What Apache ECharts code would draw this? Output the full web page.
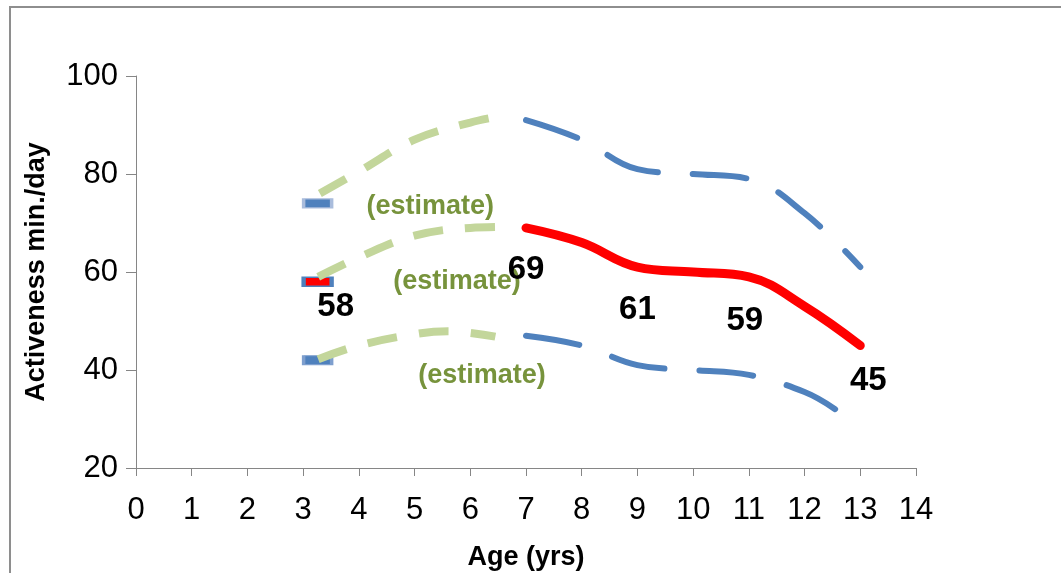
<!DOCTYPE html>
<html>
<head>
<meta charset="utf-8">
<script src="https://cdn.jsdelivr.net/npm/echarts@6/dist/echarts.min.js"></script>
<style>
html,body{margin:0;padding:0;background:#fff;}
#chart{width:1061px;height:573px;}
</style>
</head>
<body>
<div id="chart"></div>
<script>
// ---- data ----
const ages = [7, 8, 9, 10, 11, 12, 13];
const meanValues = [69, 66, 61, 60, 59, 53, 45];
const upperValues = [91, 87, 81, 80, 79, 72, 61];
const lowerAges = [7, 8, 9, 10, 11, 12, 12.55];
const lowerValues = [47, 45, 41, 40, 39, 35.5, 32];

const estUpperAges = [3.3, 4, 5, 6, 6.65];
const estUpperValues = [76, 80.5, 87, 90.5, 92];
const estMeanAges = [3.27, 4, 5, 6, 6.65];
const estMeanValues = [59, 63, 67.4, 69, 69.2];
const estLowerAges = [3.27, 4, 5, 5.6, 6.45];
const estLowerValues = [42.2, 45, 47.3, 47.9, 46.8];

const startAge = 3.26;
const startValues = [74, 58, 42];           // upper, mean, lower at start
const labeledAges = [7, 9, 11, 13];          // mean values shown as labels
const estimateText = '(estimate)';
const estimateLabelAges = [5.28, 5.76, 6.21];
const estimateLabelValues = [73.3, 58, 38.8];

const xMin = 0, xMax = 14, xStep = 1;
const yMin = 20, yMax = 100, yStep = 20;
const xTitle = 'Age (yrs)';
const yTitle = 'Activeness min./day';

// ---- build ----
const zip = (xs, ys) => xs.map((x, i) => [x, ys[i]]);
const FONT = "'Liberation Sans', Arial, sans-serif";
const BLUE = '#4F81BD', GREEN = '#C3D69B', RED = '#FF0000', LABELGREEN = '#77933C';
const labelOffsets = {7: [0, 42], 9: [0, 43], 11: [-4, 44], 13: [8, 35]};
const numLabel = {show: true, position: 'inside', color: '#000', fontFamily: FONT,
  fontWeight: 'bold', fontSize: 33, formatter: p => String(p.value[1])};

const meanData = zip(ages, meanValues).map(d => {
  const o = labelOffsets[d[0]];
  return labeledAges.includes(d[0])
    ? {value: d, label: Object.assign({}, numLabel, {offset: o})}
    : {value: d, label: {show: false}};
});

const chart = echarts.init(document.getElementById('chart'));
chart.setOption({
  animation: false,
  backgroundColor: '#fff',
  graphic: [{type: 'rect', shape: {x: 10, y: 7, width: 1100, height: 620},
    style: {fill: 'none', stroke: '#8E8E8E', lineWidth: 2}, z: 0, silent: true}],
  grid: {left: 136, right: 145, top: 76, bottom: 105, containLabel: false, outerBoundsMode: 'none'},
  xAxis: {type: 'value', min: xMin, max: xMax, interval: xStep,
    name: xTitle, nameLocation: 'middle', nameGap: 76,
    nameTextStyle: {fontFamily: FONT, fontWeight: 'bold', fontSize: 27, color: '#000'},
    axisLine: {show: true, lineStyle: {color: '#868686', width: 1}},
    axisTick: {show: true, length: 8, lineStyle: {color: '#868686'}},
    axisLabel: {margin: 27, fontFamily: FONT, fontSize: 31, color: '#000'},
    splitLine: {show: false}},
  yAxis: {type: 'value', min: yMin, max: yMax, interval: yStep,
    name: yTitle, nameLocation: 'middle', nameGap: 86,
    nameTextStyle: {fontFamily: FONT, fontWeight: 'bold', fontSize: 27, color: '#000'},
    axisLine: {show: true, lineStyle: {color: '#868686', width: 1}},
    axisTick: {show: true, length: 10, lineStyle: {color: '#868686'}},
    axisLabel: {margin: 18, fontFamily: FONT, fontSize: 31, color: '#000'},
    splitLine: {show: false}},
  series: [
    {type: 'scatter', z: 2, symbol: 'rect', symbolSize: [28, 9],
      itemStyle: {opacity: 1},
      data: [
        {value: [startAge, startValues[0]], itemStyle: {color: BLUE, borderColor: '#A9BCDC', borderWidth: 2, opacity: 1}},
        {value: [startAge, startValues[1]], itemStyle: {color: RED, borderColor: BLUE, borderWidth: 2.5, opacity: 1},
          label: Object.assign({}, numLabel, {offset: [18, 25]})},
        {value: [startAge, startValues[2]], itemStyle: {color: BLUE, borderColor: '#7E9FCE', borderWidth: 2, opacity: 1}}
      ]},
    {type: 'line', z: 3, smooth: 0.4, showSymbol: false, data: zip(estUpperAges, estUpperValues),
      lineStyle: {color: GREEN, width: 8, type: [30, 22], cap: 'butt'}},
    {type: 'line', z: 3, smooth: 0.4, showSymbol: false, data: zip(estMeanAges, estMeanValues),
      lineStyle: {color: GREEN, width: 8, type: [30, 22], cap: 'butt'}},
    {type: 'line', z: 3, smooth: 0.4, showSymbol: false, data: zip(estLowerAges, estLowerValues),
      lineStyle: {color: GREEN, width: 8, type: [30, 22], cap: 'butt'}},
    {type: 'line', z: 3, smooth: 0.4, showSymbol: false, data: zip(ages, upperValues),
      lineStyle: {color: BLUE, width: 6, type: [54, 35], cap: 'round'}},
    {type: 'line', z: 3, smooth: 0.4, showSymbol: false, data: zip(lowerAges, lowerValues),
      lineStyle: {color: BLUE, width: 6, type: [54, 35], cap: 'round'}},
    {type: 'scatter', z: 4, symbolSize: 0, itemStyle: {opacity: 1},
      data: zip(estimateLabelAges, estimateLabelValues),
      label: {show: true, position: 'inside', formatter: estimateText, color: LABELGREEN,
        fontFamily: FONT, fontWeight: 'bold', fontSize: 27}},
    {type: 'line', z: 5, smooth: 0.4, symbol: 'circle', symbolSize: 0, showSymbol: true,
      itemStyle: {color: RED, opacity: 1}, data: meanData,
      lineStyle: {color: RED, width: 9, cap: 'round'}}
  ]
});
</script>
</body>
</html>
